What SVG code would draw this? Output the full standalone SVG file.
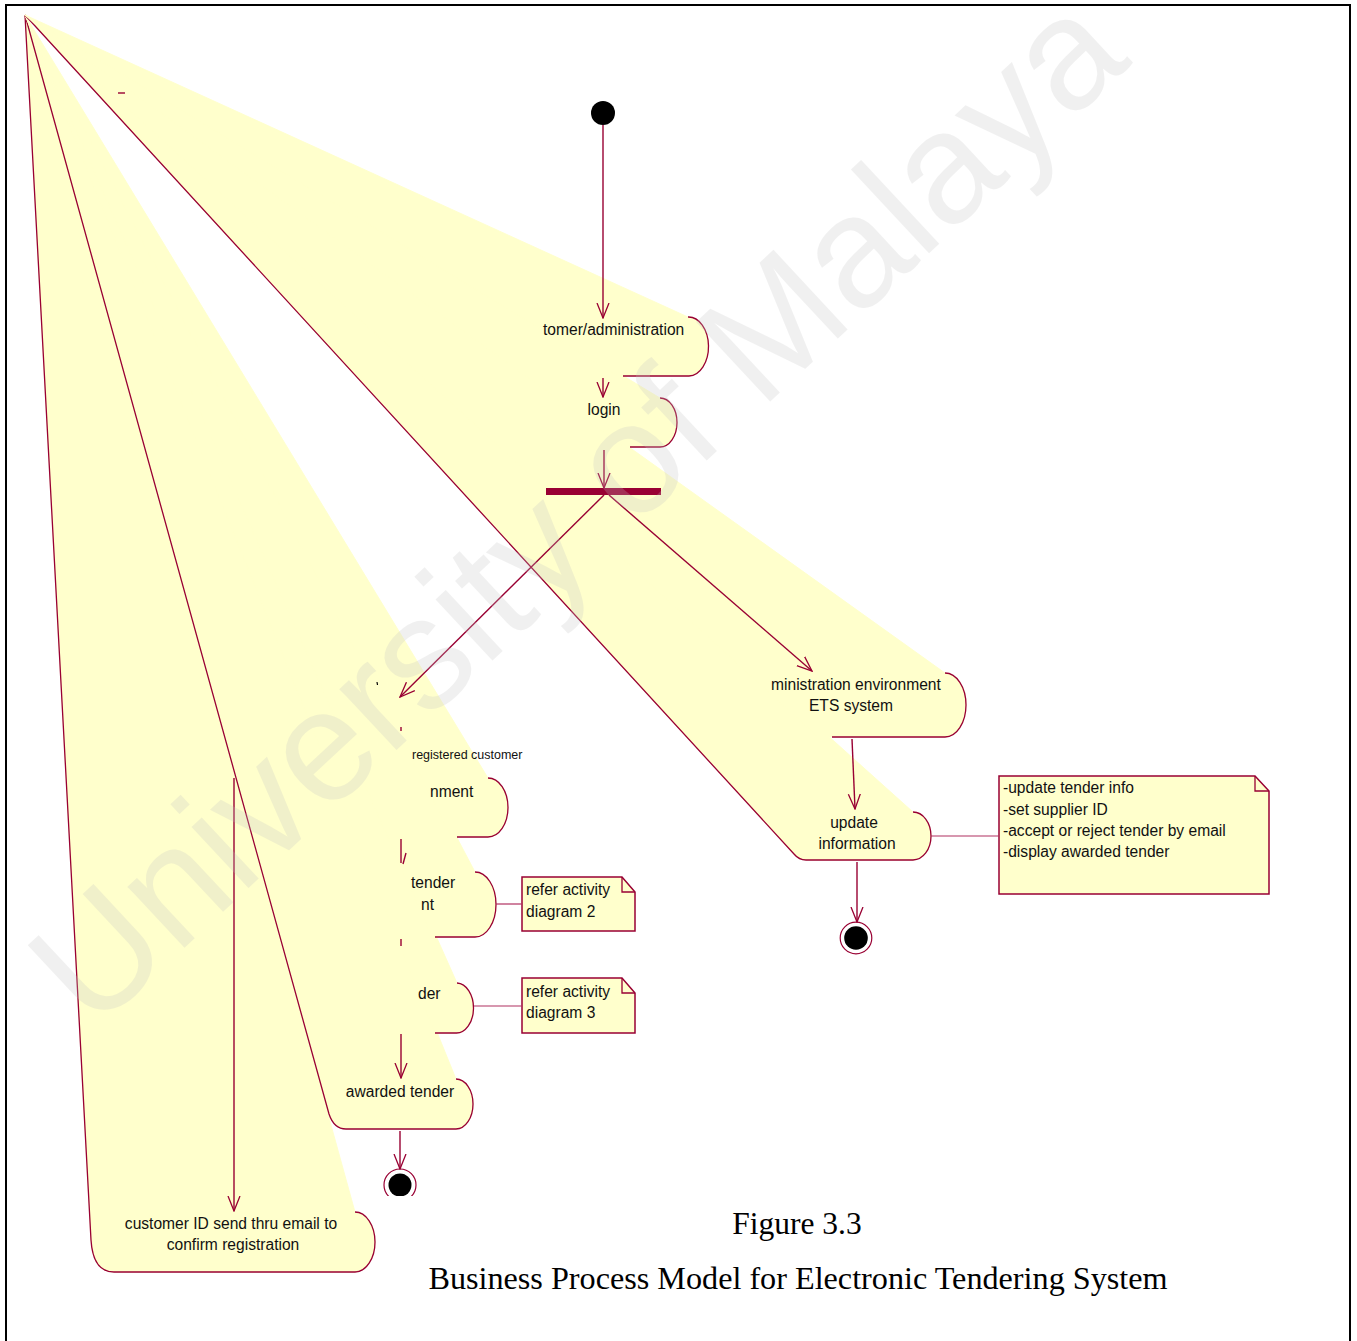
<svg xmlns="http://www.w3.org/2000/svg" width="1357" height="1341" viewBox="0 0 1357 1341">
  <defs>
    <style>
      .act { fill: #FFFFCC; stroke: #FFFFCC; stroke-width: 0.9; stroke-linejoin: round; }
      .edge { fill: none; stroke: #990033; stroke-width: 1.3; }
      .flow { fill: none; stroke: #990033; stroke-width: 1.4; }
      .anchor { fill: none; stroke: #B03060; stroke-width: 1.2; }
      .note { fill: #FFFFCC; stroke: #990033; stroke-width: 1.5; }
      .lbl { font-family: "Liberation Sans", Arial, sans-serif; font-size: 15.6px; fill: #111; }
      .mid { text-anchor: middle; }
      .small { font-size: 12.5px; }
      .cap { font-family: "Liberation Serif", "Times New Roman", serif; font-size: 31.5px; fill: #000; text-anchor: middle; }
      .mark { font-family: "Liberation Sans", Arial, sans-serif; font-size: 158px; fill: #c4c4c4; opacity: 0.24; }
    </style>
    <marker id="arr" viewBox="0 0 16 14" refX="15" refY="7" markerWidth="16" markerHeight="14" markerUnits="userSpaceOnUse" orient="auto">
      <path d="M0,1 L15,7 L0,13" fill="none" stroke="#990033" stroke-width="1.3"/>
    </marker>
    <clipPath id="cutEnd">
      <rect x="370" y="1150" width="60" height="46"/>
    </clipPath>
  </defs>

  <rect width="1357" height="1341" fill="#fff"/>

  <!-- page frame (open at the bottom) -->
  <path d="M6,1341 V5 H1350 V1341" fill="none" stroke="#000" stroke-width="2"/>

  <!-- activity states, all collapsed towards the common corner at (25,15) -->
  <g id="node-customer-id">
    <path class="act" d="M25,15 L355,1212 A20,30 0 0 1 355,1272 L114,1272 Q93,1272 91,1240 Z"/>
    <path class="edge" d="M355,1212 A20,30 0 0 1 355,1272 L114,1272 Q93,1272 91,1240 L25,15"/>
    <text class="lbl mid" x="231" y="1229">customer ID send thru email to</text>
    <text class="lbl mid" x="233" y="1250">confirm registration</text>
  </g>

  <g id="node-awarded-tender">
    <path class="act" d="M25,15 L456,1079 A17,25 0 0 1 456,1129 L346,1129 Q334,1129 329,1114 Z"/>
    <path class="edge" d="M456,1079 A17,25 0 0 1 456,1129 L346,1129 Q334,1129 329,1114 L25,15"/>
    <text class="lbl mid" x="400" y="1097">awarded tender</text>
  </g>

  <g id="node-tender">
    <path class="act" d="M25,15 L457,983 A17,25 0 0 1 456,1033 L435,1033 Z"/>
    <path class="edge" d="M457,983 A17,25 0 0 1 456,1033 L435,1033"/>
    <text class="lbl" x="418" y="999">der</text>
  </g>

  <g id="node-tender-environment">
    <path class="act" d="M25,15 L475,872 A21,32.5 0 0 1 475,937 L435,937 L432,937 Z"/>
    <path class="edge" d="M475,872 A21,32.5 0 0 1 475,937 L435,937"/>
    <text class="lbl" x="411" y="888">tender</text>
    <text class="lbl" x="421" y="910">nt</text>
  </g>

  <g id="node-registered-environment">
    <path class="act" d="M25,15 L488,778 A20,29.5 0 0 1 488,837 L457,837 L452,837 Z"/>
    <path class="edge" d="M488,778 A20,29.5 0 0 1 488,837 L457,837"/>
    <text class="lbl small" x="412" y="759">registered customer</text>
    <text class="lbl" x="430" y="797">nment</text>
  </g>

  <g id="node-update-information">
    <path class="act" d="M25,15 L913,812 A18,24 0 0 1 913,860 L806,860 Q799,860 794,854 Z"/>
    <path class="edge" d="M913,812 A18,24 0 0 1 913,860 L806,860 Q799,860 794,854 L25,15"/>
    <text class="lbl mid" x="854" y="828">update</text>
    <text class="lbl mid" x="857" y="849">information</text>
  </g>

  <g id="node-admin-environment">
    <path class="act" d="M25,15 L945,673 A21,32 0 0 1 945,737 L832,737 L818,737 Z"/>
    <path class="edge" d="M945,673 A21,32 0 0 1 945,737 L832,737"/>
    <text class="lbl" x="771" y="690">ministration environment</text>
    <text class="lbl mid" x="851" y="711">ETS system</text>
  </g>

  <g id="node-login">
    <path class="act" d="M25,15 L660,398 A17,24.5 0 0 1 660,447 L630,447 L624,447 Z"/>
    <path class="edge" d="M660,398 A17,24.5 0 0 1 660,447 L630,447"/>
    <text class="lbl mid" x="604" y="415">login</text>
  </g>

  <g id="node-customer-administration">
    <path class="act" d="M25,15 L688,317 A20,29.5 0 0 1 689,376 L623,376 L618,376 Z"/>
    <path class="edge" d="M688,317 A20,29.5 0 0 1 689,376 L623,376"/>
    <text class="lbl" x="543" y="335">tomer/administration</text>
  </g>

  <g id="node-fork">
    <rect x="546" y="488" width="115" height="7" fill="#990033"/>
  </g>

  <g id="node-start">
    <circle cx="603" cy="113" r="12" fill="#000"/>
  </g>

  <g id="node-end-admin">
    <circle cx="856" cy="938" r="15.8" fill="none" stroke="#990033" stroke-width="1.2"/>
    <circle cx="856" cy="938" r="11.8" fill="#000"/>
  </g>

  <g id="node-end-customer" clip-path="url(#cutEnd)">
    <circle cx="400" cy="1185" r="16" fill="none" stroke="#990033" stroke-width="1.2"/>
    <circle cx="400" cy="1185" r="11.5" fill="#000"/>
  </g>

  <!-- notes -->
  <g id="note-diagram2">
    <path class="note" d="M522,877 H622 L635,892 V931 H522 Z"/>
    <path class="edge" d="M622,877 V892 H635"/>
    <text class="lbl" x="526" y="895">refer activity</text>
    <text class="lbl" x="526" y="917">diagram 2</text>
  </g>

  <g id="note-diagram3">
    <path class="note" d="M522,978 H622 L635,993 V1033 H522 Z"/>
    <path class="edge" d="M622,978 V993 H635"/>
    <text class="lbl" x="526" y="997">refer activity</text>
    <text class="lbl" x="526" y="1018">diagram 3</text>
  </g>

  <g id="note-admin-tasks">
    <path class="note" d="M999,776 H1255 L1269,791 V894 H999 Z"/>
    <path class="edge" d="M1255,776 V791 H1269"/>
    <text class="lbl" x="1003" y="793">-update tender info</text>
    <text class="lbl" x="1003" y="815">-set supplier ID</text>
    <text class="lbl" x="1003" y="836">-accept or reject tender by email</text>
    <text class="lbl" x="1003" y="857">-display awarded tender</text>
  </g>

  <!-- transitions and note anchors -->
  <g id="connectors">
    <line class="flow" x1="603" y1="125" x2="603" y2="318" marker-end="url(#arr)"/>
    <line class="flow" x1="603" y1="378" x2="603" y2="397" marker-end="url(#arr)"/>
    <line class="flow" x1="604" y1="450" x2="604" y2="488" marker-end="url(#arr)"/>
    <line class="flow" x1="604" y1="495" x2="400" y2="697" marker-end="url(#arr)"/>
    <line class="flow" x1="609" y1="495" x2="812" y2="671" marker-end="url(#arr)"/>
    <line class="flow" x1="852" y1="739" x2="855" y2="809" marker-end="url(#arr)"/>
    <line class="flow" x1="857" y1="862" x2="857" y2="922" marker-end="url(#arr)"/>
    <line class="flow" x1="401" y1="839" x2="401" y2="863"/>
    <line class="flow" x1="406" y1="853" x2="403" y2="864"/>
    <line class="flow" x1="401" y1="939" x2="401" y2="946"/>
    <line class="flow" x1="401" y1="1034" x2="401" y2="1078" marker-end="url(#arr)"/>
    <line class="flow" x1="400" y1="1131" x2="400" y2="1169" marker-end="url(#arr)"/>
    <line class="flow" x1="234" y1="778" x2="234" y2="1211" marker-end="url(#arr)"/>
    <line class="anchor" x1="931" y1="836" x2="999" y2="836"/>
    <line class="anchor" x1="496" y1="904" x2="522" y2="904"/>
    <line class="anchor" x1="474" y1="1006" x2="522" y2="1006"/>
    <!-- stray leftovers of hidden strokes -->
    <line class="flow" x1="118" y1="93" x2="125" y2="93"/>
    <line class="flow" x1="401" y1="727" x2="401" y2="731"/>
    <line x1="377" y1="682" x2="377.5" y2="685" stroke="#000" stroke-width="1.2"/>
  </g>

  <!-- caption -->
  <text class="cap" x="797" y="1234">Figure 3.3</text>
  <text class="cap" x="798" y="1289" style="font-size:32.2px">Business Process Model for Electronic Tendering System</text>

  <!-- watermark -->
  <text class="mark" transform="translate(93,1033) rotate(-43)">University of Malaya</text>
</svg>
